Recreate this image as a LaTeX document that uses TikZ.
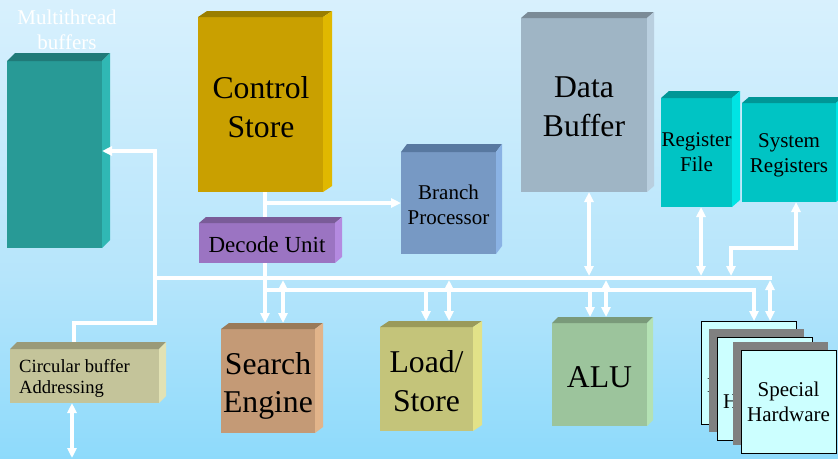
\documentclass[tikz,border=0pt]{standalone}
\usepackage{fontspec}
\setmainfont{Liberation Serif}
\usetikzlibrary{arrows.meta}
\definecolor{bgtop}{HTML}{F4FAFF}
\definecolor{bgmid}{HTML}{B6E5FB}
\definecolor{bgbot}{HTML}{5CCDFC}
\pgfdeclareverticalshading{bgsh}{100bp}{color(0bp)=(bgbot); color(45bp)=(bgmid); color(100bp)=(bgtop)}
\definecolor{mtbF}{HTML}{289A96}\definecolor{mtbT}{HTML}{207A78}\definecolor{mtbS}{HTML}{30B8B4}
\definecolor{csF}{HTML}{C9A000}\definecolor{csT}{HTML}{9A7E00}\definecolor{csS}{HTML}{E0B800}
\definecolor{duF}{HTML}{9B74C2}\definecolor{duT}{HTML}{7A5C98}\definecolor{duS}{HTML}{B48AE0}
\definecolor{bpF}{HTML}{7799C4}\definecolor{bpT}{HTML}{5878A0}\definecolor{bpS}{HTML}{8AB2E4}
\definecolor{dbF}{HTML}{9FB5C5}\definecolor{dbT}{HTML}{7B8B97}\definecolor{dbS}{HTML}{B9CFDF}
\definecolor{rfF}{HTML}{00C4C4}\definecolor{rfT}{HTML}{009696}\definecolor{rfS}{HTML}{00E4E4}
\definecolor{cbF}{HTML}{C4C49A}\definecolor{cbT}{HTML}{9A9A78}\definecolor{cbS}{HTML}{E2E2B4}
\definecolor{seF}{HTML}{C49A76}\definecolor{seT}{HTML}{9A7A58}\definecolor{seS}{HTML}{E2B48A}
\definecolor{lsF}{HTML}{C4C47A}\definecolor{lsT}{HTML}{9A9A5A}\definecolor{lsS}{HTML}{E2E288}
\definecolor{alF}{HTML}{9CC49C}\definecolor{alT}{HTML}{7A9A7A}\definecolor{alS}{HTML}{B4E2B4}
\definecolor{shF}{HTML}{CCFFFF}
\definecolor{shG}{HTML}{808080}
\newcommand\fbig{\fontsize{31.7}{38.5}\selectfont}
\newcommand\fmid{\fontsize{21}{25}\selectfont}
\newcommand\fdec{\fontsize{23}{27}\selectfont}
\newcommand\fcb{\fontsize{18.6}{21}\selectfont}
\newcommand\blk[8]{\node[blk,fill=#6,minimum width={#4-#2},minimum height={#5-#3},font=#7] (#1) at ({(#2+#4)/2},{(#3+#5)/2}) {#8};}
\newcommand\faces[5]{%
  \fill[#4] (#1.north west) -- ++(#2,-#3) -- ([shift={(#2,-#3)}]#1.north east) -- (#1.north east) -- cycle;
  \fill[#5] (#1.north east) -- ++(#2,-#3) -- ([shift={(#2,-#3)}]#1.south east) -- (#1.south east) -- cycle;}
\begin{document}
\begin{tikzpicture}[x=1pt,y=-1pt,
  blk/.style={inner sep=0pt,outer sep=0pt,align=center,text=black},
  txt/.style={inner sep=0pt,align=center,text=black},
  shcard/.style={draw=black,line width=1pt,fill=shF,inner sep=0pt,outer sep=0pt,align=center,
     minimum width=95pt,minimum height=103pt,font=\fmid},
  shgray/.style={fill=shG,inner sep=0pt,outer sep=0pt,minimum width=95pt,minimum height=103pt},
  wire/.style={draw=white,line width=3.5pt},
  arr/.style={-{Triangle[length=10pt,width=9pt]}},
  barr/.style={{Triangle[length=10pt,width=9pt]}-{Triangle[length=10pt,width=9pt]}}]
\useasboundingbox (0,0) rectangle (838,458);
\shade[shading=bgsh] (0,0) rectangle (838,458);

% label
\node[text=white,font=\fmid,align=center,inner sep=0pt] (mtblabel) at (67,30) {Multithread\\buffers};

% blocks
\blk{mtb}{7}{61}{102}{248}{mtbF}{\fmid}{}
\faces{mtb}{8}{8}{mtbT}{mtbS}
\blk{cs}{198}{17}{323}{192}{csF}{\fbig}{}
\faces{cs}{9}{6}{csT}{csS}
\node[txt,font=\fbig] (cstext) at (261,107) {Control\\Store};
\blk{du}{199}{223}{335}{263}{duF}{\fdec}{}
\faces{du}{7}{6}{duT}{duS}
\node[txt,font=\fdec] (dutext) at (267,245) {Decode Unit};
\blk{bp}{401}{152}{496}{254}{bpF}{\fmid}{}
\faces{bp}{6}{8}{bpT}{bpS}
\node[txt,font=\fmid] (bptext) at (448.5,205) {Branch\\Processor};
\blk{db}{521}{18}{647}{192}{dbF}{\fbig}{}
\faces{db}{7}{6}{dbT}{dbS}
\node[txt,font=\fbig] (dbtext) at (584,107) {Data\\Buffer};
\blk{rf}{661}{98}{732}{207}{rfF}{\fmid}{Register\\File}
\faces{rf}{8}{7}{rfT}{rfS}
\blk{sr}{742}{103}{836}{202}{rfF}{\fmid}{}
\faces{sr}{7}{6}{rfT}{rfS}
\node[txt,font=\fmid] (srtext) at (789,155) {System\\Registers};
\blk{cb}{10}{349}{159}{403}{cbF}{\fcb}{}
\faces{cb}{7}{7}{cbT}{cbS}
\node[font=\fcb,align=left,inner sep=0pt,anchor=west] (cbtext) at (19,378) {Circular buffer\\Addressing};
\blk{se}{221}{329}{315}{433}{seF}{\fbig}{}
\faces{se}{8}{6}{seT}{seS}
\node[txt,font=\fbig] (setext) at (268,386) {Search\\Engine};
\blk{ls}{380}{327}{473}{431}{lsF}{\fbig}{}
\faces{ls}{9}{6}{lsT}{lsS}
\node[txt,font=\fbig] (lstext) at (426.5,381) {Load/\\Store};
\blk{alu}{552}{323}{647}{426}{alF}{\fbig}{}
\faces{alu}{6}{6}{alT}{alS}
\node[txt,font=\fbig] (alutext) at (599.5,377) {ALU};

% special hardware stack
\node[shcard] (sh1) at (748.5,372.5) {Special\\Hardware};
\node[shgray] (g1) at (756.5,380.5) {};
\node[shcard] (sh2) at (764.5,388.5) {Special\\Hardware};
\node[shgray] (g2) at (780.5,393.5) {};
\node[shcard] (sh3) at (788.5,401.5) {Special\\Hardware};

% junctions
\coordinate (ul) at (155,278);
\coordinate (ur) at (771.75,278);
\coordinate (ll) at (265,290);
\coordinate (lr) at (754,290);
\coordinate (jb) at (265,203);
\coordinate (mj) at (155,151);
\coordinate (cj) at (155,323);

% connectors
\draw[wire] (cs.south -| ll) -- (265,217);
\draw[wire,arr] (jb) -- (bp.west);
\draw[wire,arr] (du.south -| ll) -- (265,323);
\draw[wire,arr] (ll) -- (lr) -- (754,321);
\draw[wire,arr] (426,290) -- (426,321);
\draw[wire,arr] (590,290) -- (590,317);
\draw[wire] (ul) -- (ur);
\draw[wire,barr] (770,280) -- (770,321);
\draw[wire,barr] (283,280) -- (283,323);
\draw[wire,barr] (449,280) -- (449,321);
\draw[wire,barr] (606,280) -- (606,317);
\draw[wire,barr] ([xshift=5pt]db.south) -- (589,276);
\draw[wire,barr] ([xshift=4.5pt]rf.south) -- (701,276);
\draw[wire,barr] ([xshift=7pt]sr.south) -- (796,248) -- (731,248) -- (731,276);
\draw[wire,arr] (ul) -- (mj) -- (mtb.east |- mj);
\draw[wire] (ul) -- (cj) -- (74,323) -- (74,342);
\draw[wire,barr] ([xshift=-12.5pt]cb.south) -- (72,458);
\end{tikzpicture}
\end{document}
